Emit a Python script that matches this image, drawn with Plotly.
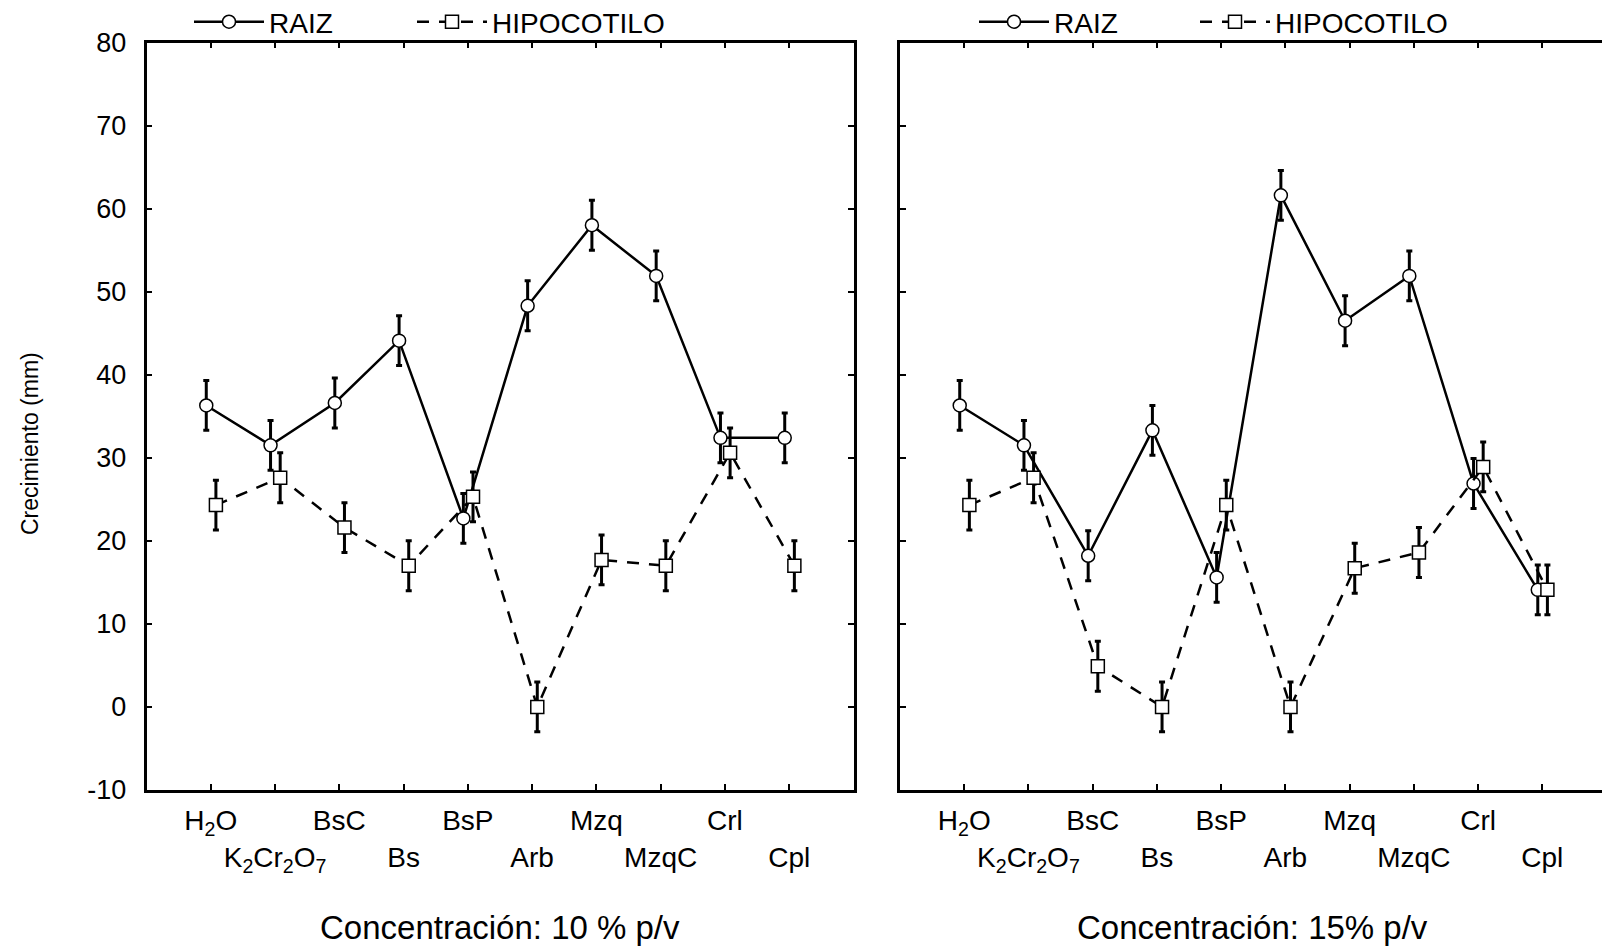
import plotly.graph_objects as go

# ---------------- data ----------------
categories = ["H<sub>2</sub>O", "K<sub>2</sub>Cr<sub>2</sub>O<sub>7</sub>", "BsC", "Bs", "BsP",
              "Arb", "Mzq", "MzqC", "Crl", "Cpl"]
raiz_10 = [36.3, 31.5, 36.6, 44.1, 22.7, 48.3, 58.0, 51.9, 32.4, 32.4]
hipo_10 = [24.3, 27.6, 21.6, 17.0, 25.3, 0.0, 17.7, 17.0, 30.6, 17.0]
raiz_15 = [36.3, 31.5, 18.2, 33.3, 15.6, 61.6, 46.5, 51.9, 26.9, 14.1]
hipo_15 = [24.3, 27.6, 4.9, 0.0, 24.3, 0.0, 16.7, 18.6, 28.9, 14.1]
err_raiz_10 = [3.0, 3.0, 3.0, 3.0, 3.0, 3.0, 3.0, 3.0, 3.0, 3.0]
err_hipo_10 = [3.0, 3.0, 3.0, 3.0, 3.0, 3.0, 3.0, 3.0, 3.0, 3.0]
err_raiz_15 = [3.0, 3.0, 3.0, 3.0, 3.0, 3.0, 3.0, 3.0, 3.0, 3.0]
err_hipo_15 = [3.0, 3.0, 3.0, 3.0, 3.0, 3.0, 3.0, 3.0, 3.0, 3.0]
y_ticks = [-10, 0, 10, 20, 30, 40, 50, 60, 70, 80]
series_names = ["RAIZ", "HIPOCOTILO"]
panel_titles = ["Concentración: 10 % p/v", "Concentración: 15% p/v"]

# ---------------- figure ----------------
FONT = "Liberation Sans, Arial, sans-serif"
W, H = 1602, 947
idx = list(range(len(categories)))
dodge_raiz = -0.07
dodge_hipo = 0.08
x_raiz = [i + dodge_raiz for i in idx]
x_hipo = [i + dodge_hipo for i in idx]
tick_text = [c if i % 2 == 0 else "<br>" + c for i, c in enumerate(categories)]
y_tick_text = [str(v) for v in y_ticks]

fig = go.Figure()


def add_panel(raiz, hipo, er, eh, xa, ya, leg_r, leg_h):
    fig.add_trace(go.Scatter(
        x=x_raiz, y=raiz, name=series_names[0], mode="lines+markers",
        xaxis=xa, yaxis=ya, legend=leg_r, showlegend=True,
        line=dict(color="black", width=2.5),
        marker=dict(symbol="circle", size=13, color="white",
                    line=dict(color="black", width=1.5)),
        error_y=dict(type="data", array=er, visible=True, color="black",
                     thickness=3, width=3),
    ))
    fig.add_trace(go.Scatter(
        x=x_hipo, y=hipo, name=series_names[1], mode="lines+markers",
        xaxis=xa, yaxis=ya, legend=leg_h, showlegend=True,
        line=dict(color="black", width=2.5, dash="12px,10px"),
        marker=dict(symbol="square", size=13, color="white",
                    line=dict(color="black", width=1.5)),
        error_y=dict(type="data", array=eh, visible=True, color="black",
                     thickness=3, width=3),
    ))


add_panel(raiz_10, hipo_10, err_raiz_10, err_hipo_10, "x", "y", "legend", "legend2")
add_panel(raiz_15, hipo_15, err_raiz_15, err_hipo_15, "x2", "y2", "legend3", "legend4")

xcommon = dict(
    tickmode="array", tickvals=idx, ticktext=tick_text, tickangle=0,
    showline=True, linecolor="black", linewidth=2.5,
    ticks="inside", ticklen=6, tickwidth=2, tickcolor="black",
    showgrid=False, zeroline=False, automargin=False,
    tickfont=dict(family=FONT, size=28, color="black"),
    ticklabelstandoff=4,
)
ycommon = dict(
    tickmode="array", tickvals=y_ticks, ticktext=y_tick_text, range=[-10, 80],
    showline=True, linecolor="black", linewidth=2.5,
    ticks="inside", ticklen=6, tickwidth=2, tickcolor="black",
    showgrid=False, zeroline=False, automargin=False,
    tickfont=dict(family=FONT, size=27, color="black"),
)


def legend_at(xpx):
    return dict(orientation="h", x=xpx / W, y=1 - 22 / H, xanchor="left",
                yanchor="middle", font=dict(family=FONT, size=28, color="black"),
                bgcolor="rgba(0,0,0,0)", itemwidth=70, borderwidth=0, visible=True)


ydom = [1 - 790 / H, 1 - 42.5 / H]
fig.update_layout(
    width=W, height=H,
    showlegend=True,
    margin=dict(l=0, r=0, t=0, b=0, autoexpand=False),
    paper_bgcolor="white", plot_bgcolor="white",
    font=dict(family=FONT, color="black"),
    xaxis=dict(domain=[146.5 / W, 853.5 / W], range=[-1, 10], anchor="y",
               mirror="ticks", **xcommon),
    yaxis=dict(domain=ydom, anchor="x", mirror="ticks", ticklabelstandoff=12, **ycommon),
    xaxis2=dict(domain=[900 / W, 1.0], range=[-1, 9.93], anchor="y2",
                mirror="ticks", **xcommon),
    yaxis2=dict(domain=ydom, anchor="x2", mirror=False, showticklabels=False, **ycommon),
    legend=legend_at(189),
    legend2=legend_at(412),
    legend3=legend_at(974),
    legend4=legend_at(1195),
    annotations=[
        dict(text=panel_titles[0], xref="paper", yref="paper",
             x=500 / W, y=1 - 927 / H, xanchor="center", yanchor="middle",
             showarrow=False, font=dict(family=FONT, size=33, color="black")),
        dict(text=panel_titles[1], xref="paper", yref="paper",
             x=1252 / W, y=1 - 927 / H, xanchor="center", yanchor="middle",
             showarrow=False, font=dict(family=FONT, size=33, color="black")),
        dict(text="Crecimiento (mm)", xref="paper", yref="paper",
             x=30 / W, y=1 - 444 / H, xanchor="center", yanchor="middle",
             textangle=-90, showarrow=False,
             font=dict(family=FONT, size=23, color="black")),
    ],
)

fig.write_html("out.html")
